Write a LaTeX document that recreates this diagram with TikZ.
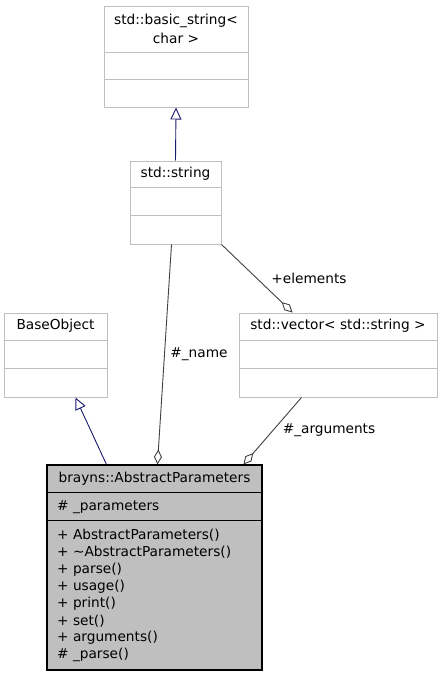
\documentclass[tikz,border=0pt]{standalone}
\usepackage{fontspec}
\setmainfont{DejaVu Sans}
\usetikzlibrary{arrows.meta,calc}
\definecolor{boxgray}{HTML}{BFBFBF}
\definecolor{edgegray}{HTML}{404040}
\definecolor{inhblue}{HTML}{191970}
\begin{document}
\begin{tikzpicture}[x=1pt,y=-1pt,
  cls/.style={draw=boxgray,line width=1pt,fill=white,inner sep=0pt},
  mainbox/.style={draw=black,line width=1.1pt,fill=boxgray,inner sep=0pt},
  txt/.style={inner sep=0pt,font=\fontsize{13.7}{16}\selectfont},
  mem/.style={txt,anchor=west},
  divl/.style={draw=boxgray,line width=1pt},
  divm/.style={draw=black,line width=1.1pt},
  agg/.style={draw=edgegray,line width=0.9pt,-{Diamond[length=15pt,width=8pt,fill=white,line width=0.9pt]}},
  inh/.style={draw=inhblue,line width=0.9pt,-{Triangle[open,length=12pt,width=11pt,fill=white,line width=0.9pt]}},
  lbl/.style={txt}]
\useasboundingbox (0,0) rectangle (443,677);
% std::basic_string<char>
\node[cls,minimum width=144pt,minimum height=100pt] (bs) at (176,57) {};
\draw[divl] ($(bs.north west)+(0,46)$) -- ($(bs.north east)+(0,46)$);
\draw[divl] ($(bs.north west)+(0,73)$) -- ($(bs.north east)+(0,73)$);
\node[txt] (bst1) at (176,21) {std::basic\_string<};
\node[txt] (bst2) at (176,38) {char >};
% std::string
\node[cls,minimum width=91pt,minimum height=83pt] (ss) at (175.5,202.5) {};
\draw[divl] ($(ss.north west)+(0,27)$) -- ($(ss.north east)+(0,27)$);
\draw[divl] ($(ss.north west)+(0,55)$) -- ($(ss.north east)+(0,55)$);
\node[txt] (sst) at (175.5,174) {std::string};
% BaseObject
\node[cls,minimum width=103pt,minimum height=84pt] (bo) at (55.5,355) {};
\draw[divl] ($(bo.north west)+(0,28)$) -- ($(bo.north east)+(0,28)$);
\draw[divl] ($(bo.north west)+(0,56)$) -- ($(bo.north east)+(0,56)$);
\node[txt] (bot) at (55.5,326) {BaseObject};
% std::vector
\node[cls,minimum width=198pt,minimum height=84pt] (vec) at (338,355) {};
\draw[divl] ($(vec.north west)+(0,28)$) -- ($(vec.north east)+(0,28)$);
\draw[divl] ($(vec.north west)+(0,56)$) -- ($(vec.north east)+(0,56)$);
\node[txt] (vect) at (338,326) {std::vector< std::string >};
% brayns::AbstractParameters
\node[mainbox,minimum width=215pt,minimum height=205pt] (ap) at (154.5,567.5) {};
\draw[divm] ($(ap.north west)+(0,28)$) -- ($(ap.north east)+(0,28)$);
\draw[divm] ($(ap.north west)+(0,56)$) -- ($(ap.north east)+(0,56)$);
\node[txt] (apt) at (154.5,479) {brayns::AbstractParameters};
\node[mem] (m0) at (57,507) {\# \_parameters};
\node[mem] (m1) at (57,535) {+ AbstractParameters()};
\node[mem] (m2) at (57,552.1) {+ \textasciitilde AbstractParameters()};
\node[mem] (m3) at (57,569.3) {+ parse()};
\node[mem] (m4) at (57,586.4) {+ usage()};
\node[mem] (m5) at (57,603.6) {+ print()};
\node[mem] (m6) at (57,620.7) {+ set()};
\node[mem] (m7) at (57,637.9) {+ arguments()};
\node[mem] (m8) at (57,655) {\# \_parse()};
% connectors
\draw[inh] (ss.north) -- (bs.south);
\coordinate (apInh) at ($(ap.north west)+(60,0)$);
\coordinate (boInh) at ($(bo.south west)+(72,0)$);
\draw[inh] (apInh) -- (boInh);
\coordinate (ssName) at ($(ss.south west)+(42,0)$);
\coordinate (apName) at ($(ap.north west)+(111,0)$);
\draw[agg] (ssName) -- (apName);
\coordinate (vecEl) at ($(vec.north west)+(54,0)$);
\draw[agg] (ss.south east) -- (vecEl);
\coordinate (vecArg) at ($(vec.south west)+(63,0)$);
\coordinate (apArg) at ($(ap.north west)+(197,0)$);
\draw[agg] (vecArg) -- (apArg);
\node[lbl] (lname) at (199,354) {\#\_name};
\node[lbl] (lel) at (309,278) {+elements};
\node[lbl] (larg) at (329,430) {\#\_arguments};
\end{tikzpicture}
\end{document}
